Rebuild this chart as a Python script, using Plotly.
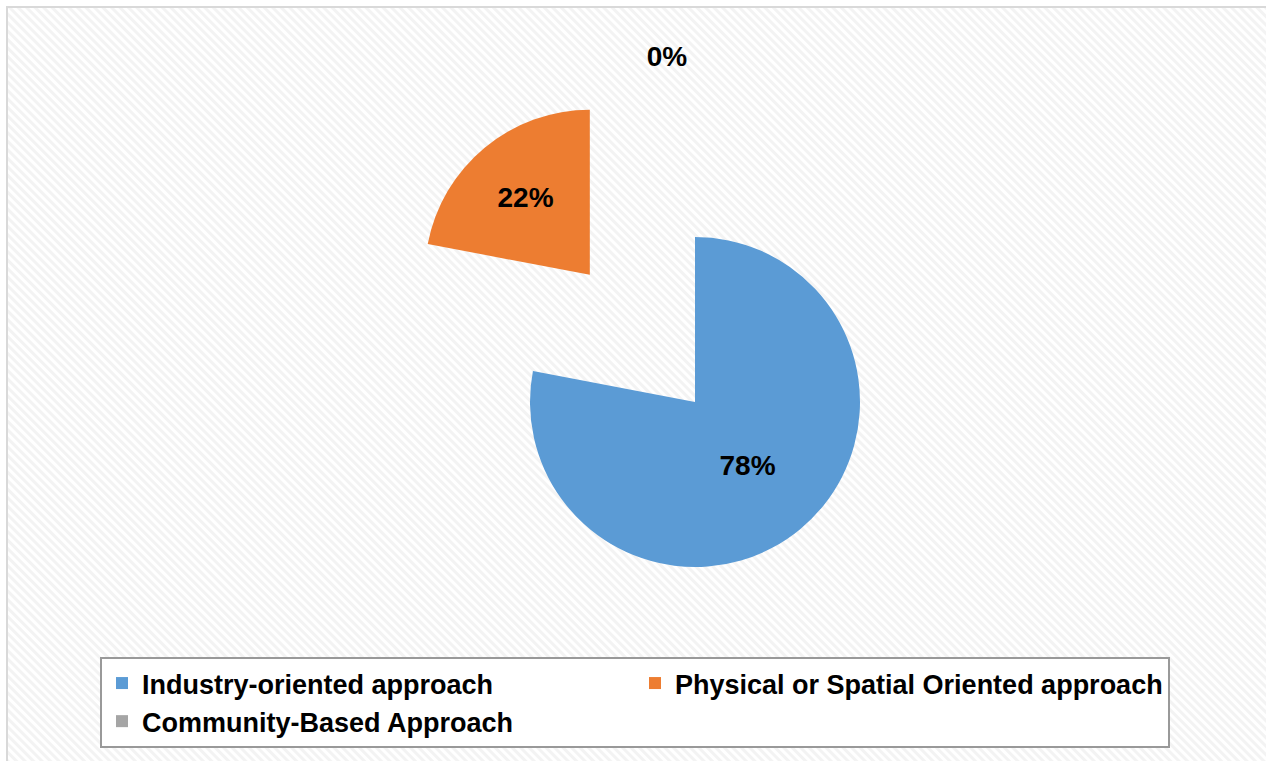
import base64
import plotly.graph_objects as go

# ---- data ----
labels = ["Industry-oriented approach", "Physical or Spatial Oriented approach", "Community-Based Approach"]
values = [78, 22, 0]
colors = ["#5B9BD5", "#ED7D31", "#A5A5A5"]
pulls = [0, 1.0, 1.0]
textpos = ["inside", "inside", "outside"]

W, H = 1266, 761

# background: hatched chart area with a light frame
svg = f"""<svg xmlns='http://www.w3.org/2000/svg' width='{W}' height='{H}'>
<defs><pattern id='p' width='6' height='6' patternUnits='userSpaceOnUse' patternTransform='rotate(-45)'>
<rect width='6' height='6' fill='#ffffff'/><rect width='3' height='6' fill='#f3f3f3'/></pattern></defs>
<rect x='0' y='0' width='{W}' height='{H}' fill='#ffffff'/>
<rect x='7' y='7' width='{W}' height='{H}' fill='url(#p)'/>
<path d='M7,{H} L7,7 L{W},7' fill='none' stroke='#d9d9d9' stroke-width='2'/>
</svg>"""
src = "data:image/svg+xml;base64," + base64.b64encode(svg.encode()).decode()

fig = go.Figure(go.Pie(
    labels=labels,
    values=values,
    marker=dict(colors=colors, line=dict(width=0)),
    pull=pulls,
    sort=False,
    direction="clockwise",
    rotation=0,
    textinfo="percent",
    textposition=textpos,
    insidetextorientation="horizontal",
    textfont=dict(family="Liberation Sans", size=28, color="black", weight="bold"),
    domain=dict(x=[0.28831, 0.80964], y=[0.03811, 0.9054]),
    showlegend=True,
    automargin=False,
    hoverinfo="label+percent",
))

fig.update_layout(
    width=W, height=H,
    margin=dict(l=0, r=0, t=0, b=0, autoexpand=False),
    paper_bgcolor="white",
    plot_bgcolor="white",
    images=[dict(source=src, xref="paper", yref="paper", x=0, y=1, sizex=1, sizey=1,
                 xanchor="left", yanchor="top", sizing="stretch", layer="below")],
    legend=dict(
        orientation="h",
        xref="container", yref="container",
        x=100 / W, y=1 - 657 / H, xanchor="left", yanchor="top",
        entrywidth=488, entrywidthmode="pixels",
        bgcolor="white", bordercolor="#999999", borderwidth=2,
        font=dict(family="Liberation Sans", size=27, color="black", weight="bold"),
        traceorder="normal",
    ),
)

fig.write_html("out.html", config={"displayModeBar": False},
               post_script="document.body.style.margin='0';document.body.style.overflow='hidden';")
